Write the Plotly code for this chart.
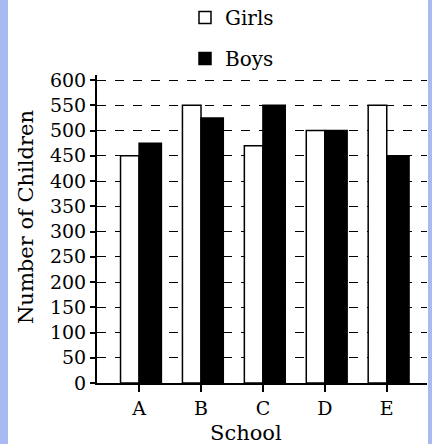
import plotly.graph_objects as go

schools = ["A", "B", "C", "D", "E"]
girls = [450, 550, 470, 500, 550]
boys = [475, 525, 550, 500, 450]
y_ticks = list(range(0, 601, 50))

FONT = "DejaVu Serif"

TOP = 75
PLOT_H = 444 - TOP - 61

fig = go.Figure()
fig.add_trace(go.Bar(
    x=schools, y=girls, name="Girls", legendgroup="g",
    marker=dict(color="white", line=dict(color="black", width=1.5)),
    width=0.3, offset=-0.3,
))
fig.add_trace(go.Bar(
    x=schools, y=boys, name="Boys", legendgroup="b",
    marker=dict(color="black", line=dict(color="black", width=1.5)),
    width=0.36, offset=0,
))

fig.update_layout(
    width=432, height=444,
    margin=dict(l=97, r=5, t=TOP, b=61, autoexpand=False),
    paper_bgcolor="#a9b9f2",
    plot_bgcolor="white",
    font=dict(family=FONT, size=19, color="black"),
    showlegend=True,
    legend=dict(
        x=(185 - 97) / 330, y=1 + (TOP + 2) / PLOT_H, xanchor="left", yanchor="top",
        traceorder="grouped", tracegroupgap=12,
        font=dict(family=FONT, size=20, color="black"),
        bgcolor="rgba(0,0,0,0)",
    ),
    shapes=[dict(
        type="rect", xref="paper", yref="paper", layer="below",
        x0=(8 - 97) / 330, x1=(428 - 97) / 330, y0=-0.3, y1=1.4,
        fillcolor="white", line=dict(width=0),
    )],
    annotations=[
        dict(text="Number of Children", xref="paper", yref="paper",
             x=(26 - 97) / 330, y=(383 - 217) / PLOT_H, textangle=-90,
             showarrow=False, xanchor="center", yanchor="middle",
             font=dict(family=FONT, size=21)),
        dict(text="School", xref="paper", yref="paper",
             x=(246 - 97) / 330, y=-(433 - 383) / PLOT_H,
             showarrow=False, xanchor="center", yanchor="middle",
             font=dict(family=FONT, size=21)),
    ],
)
fig.update_xaxes(
    type="category", range=[-0.68, 4.65],
    showline=True, linecolor="black", linewidth=2,
    ticks="outside", ticklen=7, tickcolor="black", tickwidth=1.5,
    showgrid=False, tickfont=dict(family=FONT, size=19),
)
fig.update_yaxes(
    range=[0, 610], tickvals=y_ticks,
    showline=True, linecolor="black", linewidth=2,
    ticks="outside", ticklen=5, tickcolor="black", tickwidth=1.5,
    showgrid=True, gridcolor="black", gridwidth=1.3, griddash="dash",
    zeroline=False, tickfont=dict(family=FONT, size=19),
)

fig.write_html("out.html", config={"displayModeBar": False})
with open("out.html", "r", encoding="utf-8") as f:
    html = f.read()
html = html.replace("<head>", "<head><style>html,body{margin:0;padding:0;overflow:hidden}</style>", 1)
with open("out.html", "w", encoding="utf-8") as f:
    f.write(html)
